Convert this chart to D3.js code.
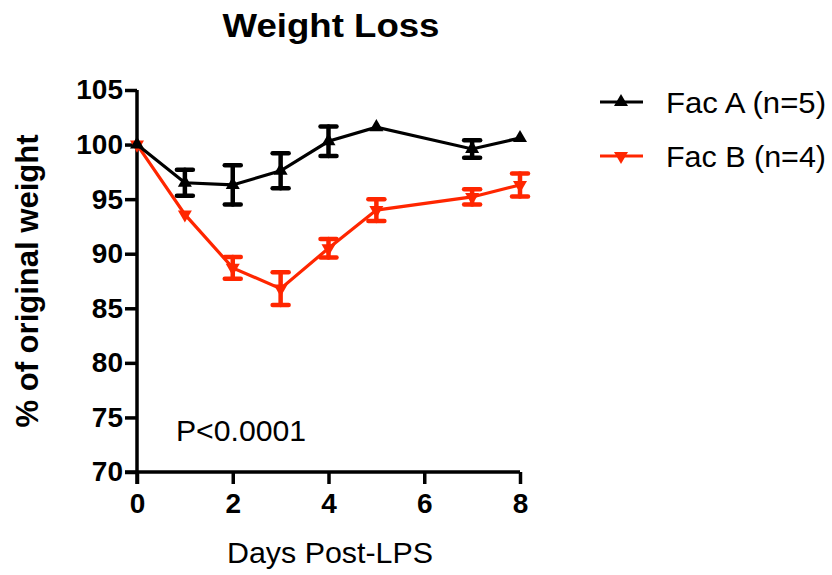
<!DOCTYPE html>
<html>
<head>
<meta charset="utf-8">
<script src="https://cdn.jsdelivr.net/npm/d3@7"></script>
<style>
  body { margin: 0; background: #fff; }
  text { font-family: "Liberation Sans", Arial, Helvetica, sans-serif; fill: #000; }
</style>
</head>
<body>
<svg id="chart" width="832" height="575"></svg>
<script>
// data
var days = [0, 1, 2, 3, 4, 5, 7, 8];
var facA = [100, 96.5, 96.3, 97.6, 100.3, 101.6, 99.6, 100.6];
var facAErr = [0, 1.2, 1.8, 1.6, 1.35, 0, 0.8, 0];
var facB = [100, 93.6, 88.7, 86.8, 90.5, 94.0, 95.2, 96.3];
var facBErr = [0, 0, 1.0, 1.5, 0.85, 1.0, 0.7, 1.05];
var yTicks = [70, 75, 80, 85, 90, 95, 100, 105];
var xTicks = [0, 2, 4, 6, 8];

const svg = d3.select("#chart");

const x = d3.scaleLinear().domain([0, 8]).range([137, 520]);
const y = d3.scaleLinear().domain([70, 105]).range([472, 90]);

// title
svg.append("text")
    .attr("x", 331).attr("y", 37)
    .attr("text-anchor", "middle")
    .attr("textLength", 217).attr("lengthAdjust", "spacingAndGlyphs")
    .style("font-size", "33px").style("font-weight", "bold")
    .text("Weight Loss");

// axes
const yAxis = svg.append("g")
    .attr("transform", "translate(137,0)")
    .call(d3.axisLeft(y).tickValues(yTicks).tickSize(12).tickPadding(2));
const xAxis = svg.append("g")
    .attr("transform", "translate(0,472)")
    .call(d3.axisBottom(x).tickValues(xTicks).tickSize(12).tickPadding(9));

[yAxis, xAxis].forEach(function(ax) {
  ax.select(".domain").attr("stroke", "#000").attr("stroke-width", 3.5);
  ax.selectAll(".tick line").attr("stroke", "#000").attr("stroke-width", 3.5);
  ax.selectAll(".tick text")
    .style("font-size", "28px").style("font-weight", "bold")
    .style("font-family", "'Liberation Sans', Arial, sans-serif").attr("fill", "#000");
});
yAxis.select(".domain").attr("d", "M0,90V484");
xAxis.select(".domain").attr("d", "M125,0H520");

// axis labels
svg.append("text")
    .attr("transform", "translate(38,281)rotate(-90)")
    .attr("text-anchor", "middle")
    .attr("textLength", 293).attr("lengthAdjust", "spacingAndGlyphs")
    .style("font-size", "31px").style("font-weight", "bold")
    .text("% of original weight");

svg.append("text")
    .attr("x", 330).attr("y", 563)
    .attr("text-anchor", "middle")
    .attr("textLength", 206).attr("lengthAdjust", "spacingAndGlyphs")
    .style("font-size", "29px")
    .text("Days Post-LPS");

svg.append("text")
    .attr("x", 176).attr("y", 441)
    .attr("textLength", 130).attr("lengthAdjust", "spacingAndGlyphs")
    .style("font-size", "30px")
    .text("P<0.0001");

// series
var series = [
  {name: "Fac B (n=4)", vals: facB, err: facBErr, color: "#FF2600", rot: 180, ly: 156},
  {name: "Fac A (n=5)", vals: facA, err: facAErr, color: "#000000", rot: 0, ly: 102}
];

const line = d3.line().x(d => x(d[0])).y(d => y(d[1]));
const tri = d3.symbol().type(d3.symbolTriangle).size(85);

series.forEach(function(s) {
  var pts = days.map((d, i) => [d, s.vals[i], s.err[i]]);
  var g = svg.append("g");

  g.append("path")
      .datum(pts)
      .attr("fill", "none")
      .attr("stroke", s.color)
      .attr("stroke-width", 3.2)
      .attr("d", line);

  var eb = g.selectAll(".err")
      .data(pts.filter(p => p[2] > 0))
      .enter().append("g")
      .attr("stroke", s.color)
      .attr("stroke-width", 4.5)
      .attr("stroke-linecap", "round");
  eb.append("line")
      .attr("x1", d => x(d[0])).attr("x2", d => x(d[0]))
      .attr("y1", d => y(d[1] + d[2])).attr("y2", d => y(d[1] - d[2]));
  eb.append("line")
      .attr("x1", d => x(d[0]) - 8).attr("x2", d => x(d[0]) + 8)
      .attr("y1", d => y(d[1] + d[2])).attr("y2", d => y(d[1] + d[2]));
  eb.append("line")
      .attr("x1", d => x(d[0]) - 8).attr("x2", d => x(d[0]) + 8)
      .attr("y1", d => y(d[1] - d[2])).attr("y2", d => y(d[1] - d[2]));

  g.selectAll(".pt")
      .data(pts)
      .enter().append("path")
      .attr("fill", s.color)
      .attr("transform", d => `translate(${x(d[0])},${y(d[1])})rotate(${s.rot})`)
      .attr("d", tri);

  // legend
  svg.append("line")
      .attr("x1", 600).attr("x2", 643)
      .attr("y1", s.ly).attr("y2", s.ly)
      .attr("stroke", s.color).attr("stroke-width", 3.2);
  svg.append("path")
      .attr("fill", s.color)
      .attr("transform", `translate(621,${s.ly})rotate(${s.rot})`)
      .attr("d", tri);
  svg.append("text")
      .attr("x", 666).attr("y", s.ly + 11)
      .attr("textLength", 160).attr("lengthAdjust", "spacingAndGlyphs")
      .style("font-size", "30px")
      .text(s.name);
});
</script>
</body>
</html>
